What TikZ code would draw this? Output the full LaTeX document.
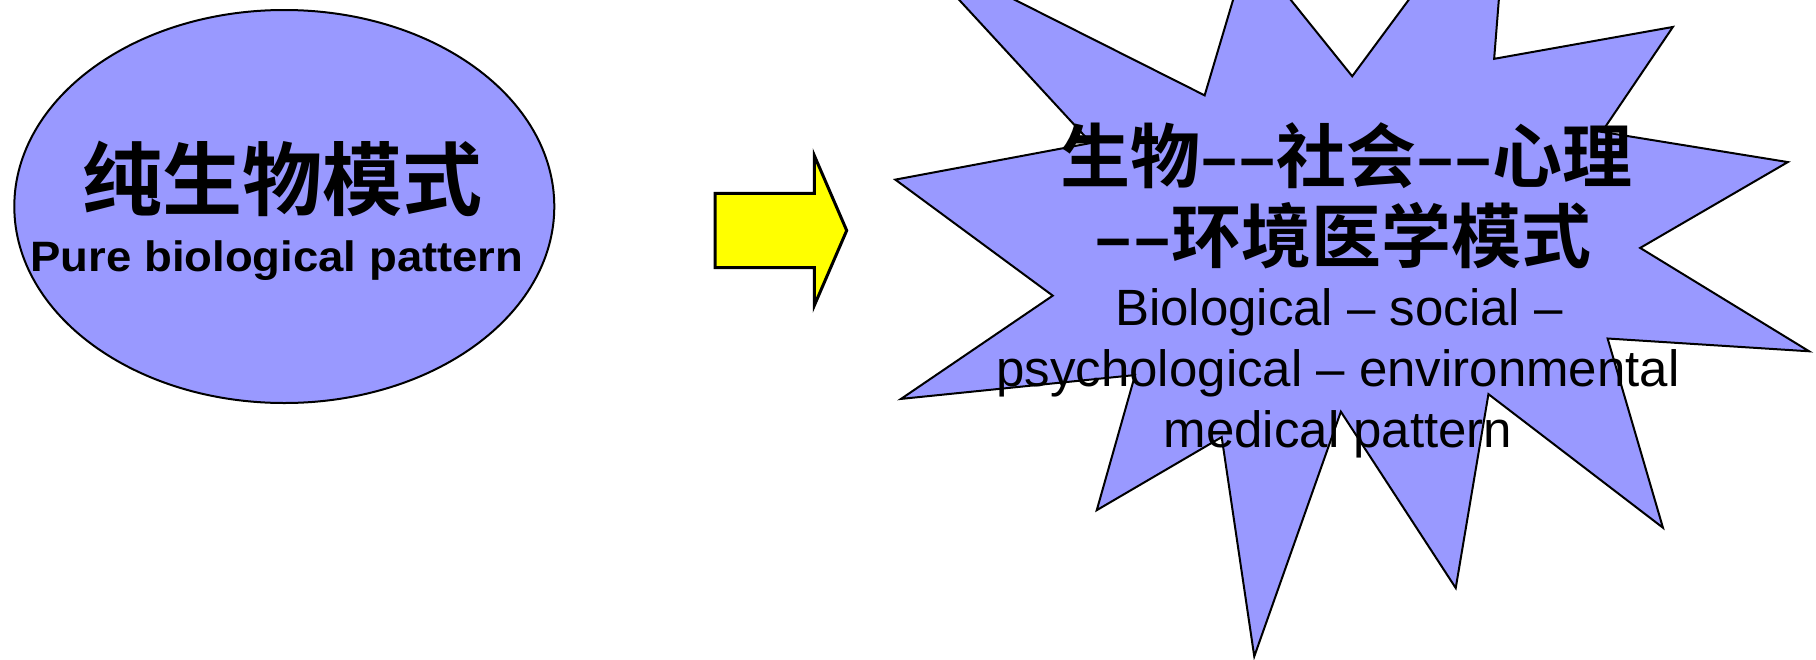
\documentclass[tikz,border=0pt]{standalone}
\usepackage{fontspec}
\usepackage{xcolor}
\usetikzlibrary{shapes.geometric}
\setmainfont{Liberation Sans}
\newfontfamily\latinfont{Liberation Sans}
\newfontfamily\latinwide[FakeStretch=1.07]{Liberation Sans}
\newfontfamily\cjkfont[BoldFont={Noto Sans CJK SC Bold}]{Noto Sans CJK SC}
\definecolor{seal}{HTML}{9999FF}
\definecolor{arrowyellow}{HTML}{FFFF00}

\begin{document}
\begin{tikzpicture}[x=1pt, y=-1pt,
shp/.style = {draw=black, line width=2pt, fill=seal, line join=miter},
zhbig/.style = {anchor=base, inner sep=0pt, font=\cjkfont\bfseries\fontsize{80}{90}\selectfont},
zh/.style = {anchor=base, inner sep=0pt, font=\cjkfont\bfseries\fontsize{70}{80}\selectfont},
enbold/.style = {anchor=base, inner sep=0pt, font=\latinwide\bfseries\fontsize{42.5}{50}\selectfont},
en/.style = {anchor=base, inner sep=0pt, font=\latinfont\fontsize{51}{61}\selectfont}
]
\useasboundingbox (0,0) rectangle (1816,659);
\fill[white] (0,0) rectangle (1816,659);
\clip (0,0) rectangle (1816,659);

% left: ellipse
\node[shp, ellipse, minimum width=540pt, minimum height=393pt, inner sep=0pt] (pure) at (284.3,206.5) {};
\node[zhbig] (pureZh) at (282.5,209) {纯生物模式};
\node[enbold] (pureEn) at (277,271) {Pure biological pattern};

% middle: block arrow
\draw[fill=arrowyellow, line width=3pt, line join=miter] (715,193.3) -- (814.3,193.3) -- (814.3,155.5) -- (846.7,230.5)
  -- (814.3,305.5) -- (814.3,267.7) -- (715,267.7) -- cycle;

% right: explosion
\draw[shp, shift={(895.3,-136.7)}, xscale=4.2306, yscale=3.6718]
  (108,58) -- (145.22,0) -- (141.55,53.25) -- (183.80,44.57) -- (167.02,73.15) -- (210.97,81.37)
  -- (176.07,104.75) -- (216,132.90) -- (168.37,129.42) -- (181.45,180.95) -- (140.20,144.57)
  -- (132.47,197.37) -- (105.32,149.35) -- (84.85,216) -- (77.15,156.27) -- (47.62,176.17)
  -- (56.67,139.37) -- (1.35,145.87) -- (37.22,117.75) -- (0,86.15) -- (46.27,76.17)
  -- (3.70,22.95) -- (73.12,63.20) -- (83.52,22.95) -- cycle;
\node[zh] (modelZhA) at (1346.6,182) {生物––社会––心理};
\node[zh] (modelZhB) at (1343,262.5) {––环境医学模式};
\node[en] (modelEnA) at (1339,325) {Biological – social –};
\node[en] (modelEnB) at (1338,386) {psychological – environmental};
\node[en] (modelEnC) at (1338,447) {medical pattern};
\end{tikzpicture}
\end{document}
